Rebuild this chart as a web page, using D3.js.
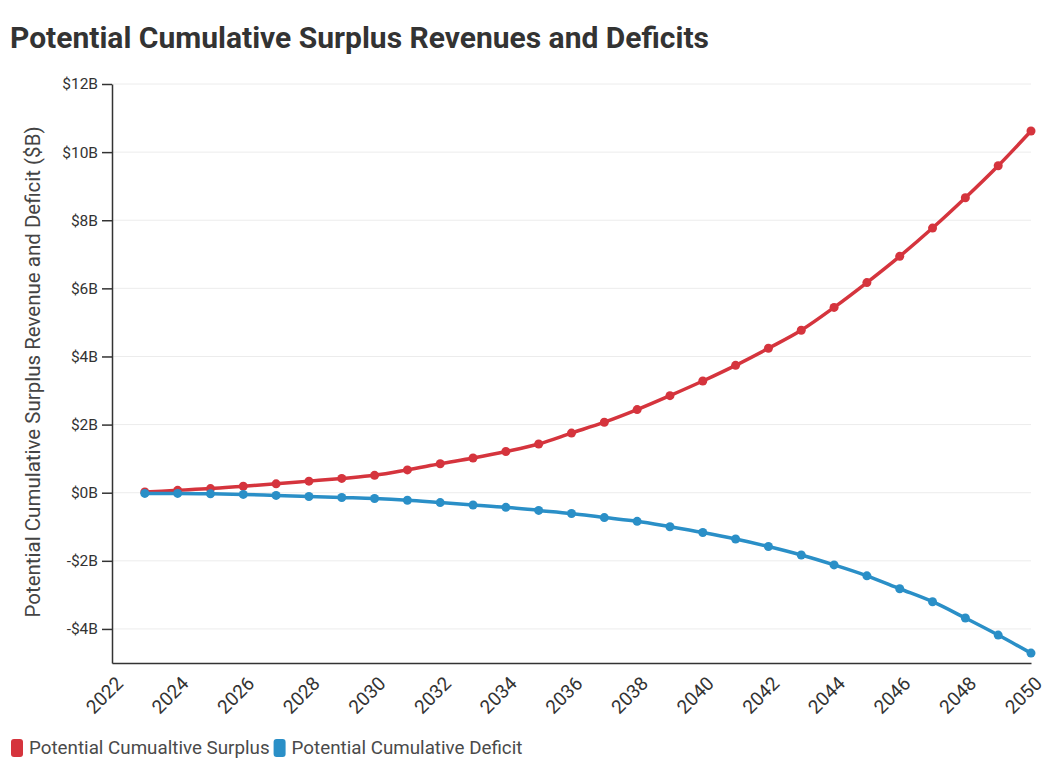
<!DOCTYPE html>
<meta charset="utf-8">
<script src="https://d3js.org/d3.v7.min.js"></script>
<style>
  body { margin: 0; background: #fff; font-family: Roboto, "Noto Sans", sans-serif; }
</style>
<div id="my_dataviz"></div>
<script>

// years on the x axis
var years = d3.range(2023, 2051);

// cumulative surplus ($B)
var surplus = [0.02, 0.07, 0.12, 0.19, 0.26, 0.34, 0.42, 0.51, 0.67, 0.85,
               1.02, 1.21, 1.43, 1.75, 2.07, 2.44, 2.85, 3.28, 3.74, 4.24,
               4.77, 5.44, 6.17, 6.94, 7.77, 8.66, 9.6, 10.62];

// cumulative deficit ($B)
var deficit = [-0.02, -0.02, -0.03, -0.05, -0.08, -0.11, -0.14, -0.17, -0.22, -0.29,
               -0.36, -0.43, -0.52, -0.61, -0.73, -0.84, -1.0, -1.17, -1.36, -1.58,
               -1.83, -2.12, -2.44, -2.82, -3.2, -3.68, -4.18, -4.71];

var seriesNames = ["Potential Cumualtive Surplus", "Potential Cumulative Deficit"];
var seriesColors = ["#d5343d", "#2a8fc7"];

var yTicks = [-4, -2, 0, 2, 4, 6, 8, 10, 12];
var xTicks = d3.range(2022, 2051, 2);

var W = 1047, H = 768;
var margin = {top: 84, right: 16, bottom: 105, left: 112},
    width = W - margin.left - margin.right,
    height = H - margin.top - margin.bottom;

var svg = d3.select("#my_dataviz")
  .append("svg")
    .attr("width", W)
    .attr("height", H);

// title
svg.append("text")
  .attr("x", 10)
  .attr("y", 48)
  .attr("font-size", 30)
  .attr("font-weight", "bold")
  .attr("fill", "#333")
  .text("Potential Cumulative Surplus Revenues and Deficits");

var g = svg.append("g")
  .attr("transform", "translate(" + margin.left + "," + margin.top + ")");

var x = d3.scaleLinear()
  .domain([2022, 2050])
  .range([0, width]);

var y = d3.scaleLinear()
  .domain([-5, 12])
  .range([height, 0]);

// gridlines
g.append("g")
  .selectAll("line")
  .data(yTicks)
  .enter()
  .append("line")
    .attr("x1", 0)
    .attr("x2", width)
    .attr("y1", function(d) { return y(d) })
    .attr("y2", function(d) { return y(d) })
    .attr("stroke", "#ececec")
    .attr("stroke-width", 1);

// Y axis
var yAxis = g.append("g")
  .call(d3.axisLeft(y).tickValues(yTicks).tickSize(10).tickSizeOuter(0)
    .tickFormat(function(d) { return (d < 0 ? "-$" : "$") + Math.abs(d) + "B" }));
yAxis.select(".domain").attr("stroke", "#333").attr("stroke-width", 1.5);
yAxis.selectAll(".tick line").attr("stroke", "#333").attr("stroke-width", 1.5);
yAxis.selectAll("text")
  .attr("font-family", "Roboto, sans-serif")
  .attr("font-size", 15.5)
  .attr("fill", "#333")
  .attr("x", -14);

// X axis
var xAxis = g.append("g")
  .attr("transform", "translate(0," + height + ")")
  .call(d3.axisBottom(x).tickValues(xTicks).tickSize(0).tickFormat(d3.format("d")));
xAxis.select(".domain").attr("stroke", "#333").attr("stroke-width", 1.5);
xAxis.selectAll("text")
  .attr("font-family", "Roboto, sans-serif")
  .attr("font-size", 19)
  .attr("fill", "#333")
  .attr("text-anchor", "end")
  .attr("dy", "0.35em")
  .attr("transform", "translate(7,17) rotate(-45)")
  .attr("y", 0)
  .attr("x", 0);

// Y axis title
svg.append("text")
  .attr("transform", "translate(40," + 372 + ") rotate(-90)")
  .attr("text-anchor", "middle")
  .attr("font-size", 20.5)
  .attr("fill", "#444")
  .text("Potential Cumulative Surplus Revenue and Deficit ($B)");

// lines and points
var series = [surplus, deficit];
var line = d3.line()
  .x(function(d, i) { return x(years[i]) })
  .y(function(d) { return y(d) })
  .curve(d3.curveMonotoneX);

series.forEach(function(vals, k) {
  g.append("path")
    .datum(vals)
    .attr("fill", "none")
    .attr("stroke", seriesColors[k])
    .attr("stroke-width", 3.5)
    .attr("d", line);
  g.append("g")
    .selectAll("circle")
    .data(vals)
    .enter()
    .append("circle")
      .attr("cx", function(d, i) { return x(years[i]) })
      .attr("cy", function(d) { return y(d) })
      .attr("r", 4.5)
      .attr("fill", seriesColors[k]);
});

// legend
var legend = svg.append("g").attr("transform", "translate(11,748)");
var lx = 0;
seriesNames.forEach(function(name, k) {
  var item = legend.append("g").attr("transform", "translate(" + lx + ",0)");
  item.append("rect")
    .attr("x", 0).attr("y", -9)
    .attr("width", 12).attr("height", 18)
    .attr("rx", 3)
    .attr("fill", seriesColors[k]);
  var t = item.append("text")
    .attr("x", 18)
    .attr("y", 6)
    .attr("font-size", 18.8)
    .attr("fill", "#4a4a4a")
    .text(name);
  lx += 18 + t.node().getComputedTextLength() + 4;
});

</script>
